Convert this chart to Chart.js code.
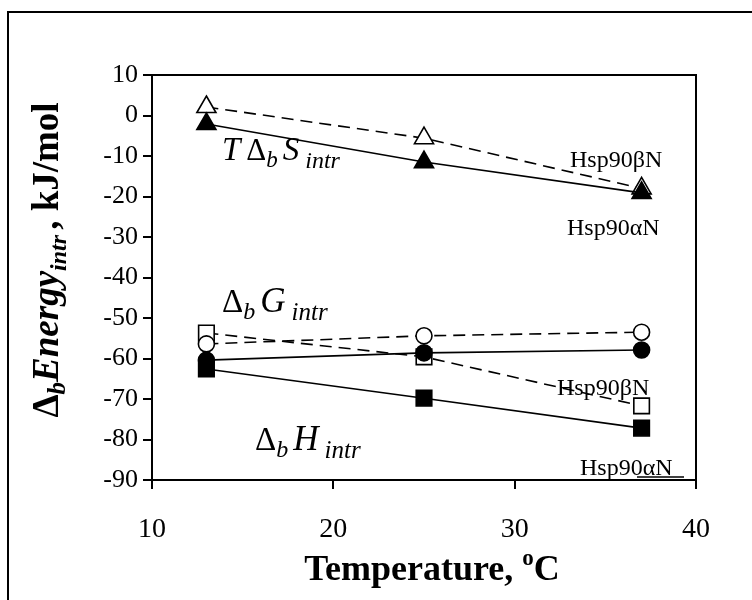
<!DOCTYPE html>
<html>
<head>
<meta charset="utf-8">
<script src="https://cdn.jsdelivr.net/npm/chart.js@4"></script>
<style>
  html, body { margin: 0; padding: 0; background: #fff; }
  #wrap { width: 752px; height: 600px; position: relative; }
</style>
</head>
<body>
<div id="wrap"><canvas id="energyChart" width="752" height="600"></canvas></div>
<script>
// temperatures (deg C) and binding energetics (kJ/mol)
const temps = [13, 25, 37];
const tdsAlpha = [-2.1, -11.5, -19.1];
const tdsBeta = [2.1, -5.6, -18.0];
const dgAlpha = [-60.4, -58.6, -57.9];
const dgBeta = [-56.4, -54.4, -53.5];
const dhAlpha = [-62.6, -69.8, -77.2];
const dhBeta = [-53.7, -59.6, -71.7];

const xTicks = [10, 20, 30, 40];
const yTicks = [10, 0, -10, -20, -30, -40, -50, -60, -70, -80, -90];

const SERIF = '"Liberation Serif", "Times New Roman", serif';

function pts(vals) {
  return temps.map((t, i) => ({ x: t, y: vals[i] }));
}

function series(vals, shape, radius, filled, dashed) {
  return {
    data: pts(vals),
    showLine: true,
    borderColor: '#000',
    borderWidth: 1.6,
    borderDash: dashed ? [12, 7] : [],
    pointStyle: shape,
    pointRadius: radius,
    pointBackgroundColor: filled ? '#000' : '#fff',
    pointBorderColor: '#000',
    pointBorderWidth: 1.6
  };
}

// draw a run of text pieces with different fonts / baseline shifts
function drawParts(ctx, x, y, parts, align) {
  let total = 0;
  parts.forEach(p => { ctx.font = p.font; total += ctx.measureText(p.text).width + (p.gap || 0); });
  let cx = align === 'center' ? x - total / 2 : x;
  parts.forEach(p => {
    ctx.font = p.font;
    ctx.fillText(p.text, cx, y + (p.dy || 0));
    cx += ctx.measureText(p.text).width + (p.gap || 0);
  });
}

const decorations = {
  id: 'decorations',
  afterDraw(chart) {
    const ctx = chart.ctx;
    const a = chart.chartArea;
    ctx.save();
    ctx.strokeStyle = '#000';
    ctx.fillStyle = '#000';

    // plot frame
    ctx.lineWidth = 2;
    ctx.strokeRect(a.left, a.top, a.right - a.left, a.bottom - a.top);

    // outer figure border
    ctx.beginPath();
    ctx.moveTo(8, 600);
    ctx.lineTo(8, 12);
    ctx.lineTo(752, 12);
    ctx.stroke();

    ctx.textBaseline = 'alphabetic';
    const it = sz => 'italic ' + sz + 'px ' + SERIF;
    const rg = sz => sz + 'px ' + SERIF;

    // TΔbS intr
    drawParts(ctx, 222, 160, [
      { text: 'T', font: it(33), gap: 6 },
      { text: 'Δ', font: rg(31) },
      { text: 'b', font: it(23), dy: 7, gap: 5 },
      { text: 'S', font: it(33), gap: 6 },
      { text: 'intr', font: it(24), dy: 8 }
    ]);
    // ΔbG intr
    drawParts(ctx, 222, 312, [
      { text: 'Δ', font: rg(33) },
      { text: 'b', font: it(24), dy: 7, gap: 5 },
      { text: 'G', font: it(35), gap: 6 },
      { text: 'intr', font: it(25), dy: 8 }
    ]);
    // ΔbH intr
    drawParts(ctx, 255, 450, [
      { text: 'Δ', font: rg(33) },
      { text: 'b', font: it(24), dy: 7, gap: 5 },
      { text: 'H', font: it(35), gap: 6 },
      { text: 'intr', font: it(25), dy: 8 }
    ]);

    // protein labels
    ctx.font = rg(24);
    ctx.fillText('Hsp90βN', 570, 167);
    ctx.fillText('Hsp90αN', 567, 235);
    ctx.fillText('Hsp90βN', 557, 395);
    ctx.fillText('Hsp90αN', 580, 475);
    ctx.lineWidth = 1.5;
    ctx.beginPath();
    ctx.moveTo(637, 477);
    ctx.lineTo(684, 477);
    ctx.stroke();

    // x axis title
    drawParts(ctx, 432, 580, [
      { text: 'Temperature, ', font: 'bold 36px ' + SERIF },
      { text: 'o', font: 'bold 23px ' + SERIF, dy: -15 },
      { text: 'C', font: 'bold 36px ' + SERIF }
    ], 'center');

    // y axis title (rotated)
    ctx.translate(58, 260);
    ctx.rotate(-Math.PI / 2);
    drawParts(ctx, 0, 0, [
      { text: 'Δ', font: 'bold 37px ' + SERIF },
      { text: 'b', font: 'bold italic 25px ' + SERIF, dy: 7 },
      { text: 'Energy', font: 'bold italic 37px ' + SERIF },
      { text: 'intr', font: 'bold italic 24px ' + SERIF, dy: 8, gap: 5 },
      { text: ', kJ/mol', font: 'bold 37px ' + SERIF }
    ], 'center');
    ctx.restore();
  }
};

new Chart(document.getElementById('energyChart').getContext('2d'), {
  type: 'scatter',
  data: {
    datasets: [
      series(tdsAlpha, 'triangle', 11, true, false),
      series(dgAlpha, 'circle', 8, true, false),
      series(dhAlpha, 'rect', 11, true, false),
      series(tdsBeta, 'triangle', 11, false, true),
      series(dgBeta, 'circle', 8, false, true),
      series(dhBeta, 'rect', 11, false, true)
    ]
  },
  options: {
    responsive: false,
    animation: false,
    layout: { padding: { top: 75, right: 56, left: 0, bottom: 0 } },
    plugins: { legend: { display: false }, tooltip: { enabled: false } },
    scales: {
      x: {
        type: 'linear',
        min: 10,
        max: 40,
        afterFit: s => { s.height = 120; },
        afterBuildTicks: s => { s.ticks = xTicks.map(v => ({ value: v })); },
        ticks: { color: '#000', font: { family: SERIF, size: 28 }, padding: 24, maxRotation: 0 },
        grid: { drawOnChartArea: false, drawTicks: true, tickLength: 9, color: '#000', lineWidth: 2 },
        border: { color: '#000', width: 2 }
      },
      y: {
        min: -90,
        max: 10,
        afterFit: s => { s.width = 152; },
        afterBuildTicks: s => { s.ticks = yTicks.map(v => ({ value: v })); },
        ticks: { color: '#000', font: { family: SERIF, size: 26 }, padding: 5 },
        grid: { drawOnChartArea: false, drawTicks: true, tickLength: 9, color: '#000', lineWidth: 2 },
        border: { color: '#000', width: 2 }
      }
    }
  },
  plugins: [decorations]
});
</script>
</body>
</html>
